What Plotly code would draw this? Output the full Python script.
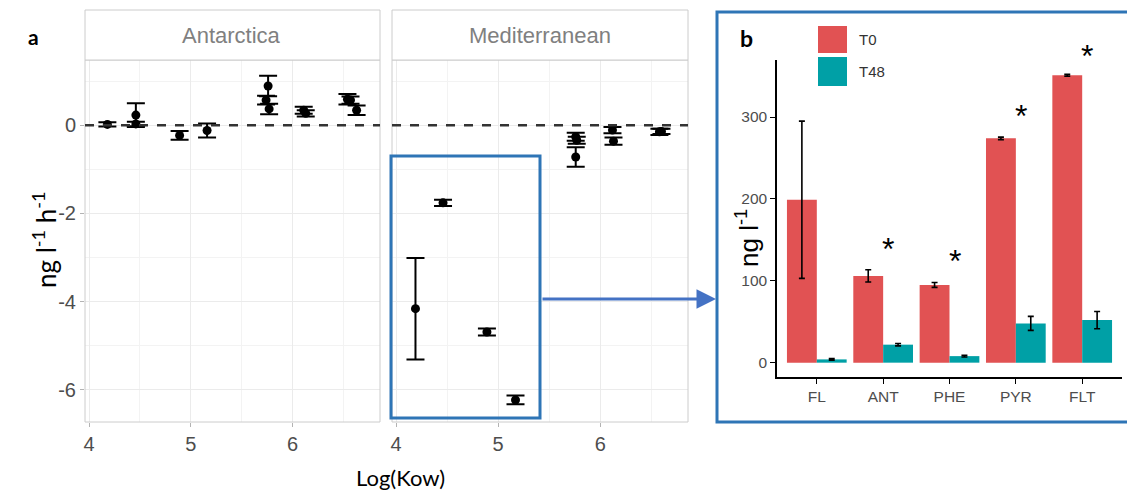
import plotly.graph_objects as go

# The page body adds an 8 px margin, so the figure is made 8 px smaller and
# all pixel positions (measured on the 1135x493 reference) are shifted by 8.
OFF = 8
W, H = 1135 - OFF, 493 - OFF

# ---------- Panel a data (Log(Kow) vs rate, ng l-1 h-1) ----------
ant_x   = [4.18, 4.46, 4.46, 4.89, 5.16, 5.76, 5.74, 5.77, 6.11, 6.13, 6.54, 6.57, 6.63]
ant_y   = [0.02, 0.23, 0.03, -0.23, -0.12, 0.89, 0.57, 0.37, 0.34, 0.27, 0.59, 0.57, 0.34]
ant_err = [0.05, 0.27, 0.05, 0.10, 0.16, 0.23, 0.10, 0.12, 0.08, 0.07, 0.12, 0.08, 0.11]

med_x   = [4.19, 4.46, 4.89, 5.17, 5.76, 5.77, 5.76, 6.12, 6.13, 6.58, 6.60]
med_y   = [-4.16, -1.76, -4.69, -6.23, -0.26, -0.34, -0.72, -0.11, -0.36, -0.15, -0.14]
med_err = [1.15, 0.07, 0.08, 0.10, 0.09, 0.08, 0.22, 0.07, 0.08, 0.07, 0.06]

x_ticks = [4, 5, 6]
y_ticks = [-6, -4, -2, 0]
y_ticktext = ["-6", "-4", "-2", "0"]

# ---------- Panel b data (ng l-1) ----------
compounds = ["FL", "ANT", "PHE", "PYR", "FLT"]
t0_vals  = [199, 106, 95, 274, 351]
t0_err   = [96, 7.5, 3, 1.5, 1.2]
t48_vals = [4, 22, 8, 48, 52]
t48_err  = [1, 1.5, 1, 8.5, 10.5]
signif   = ["", "*", "*", "*", "*"]
star_y   = [None, 144, 129, 306, 380]
b_ticks  = [0, 100, 200, 300]

RED, TEAL = "#E15253", "#00A0A6"
BLUE_BOX, BLUE_ARROW = "#2E75B6", "#4472C4"

def px(x):  # reference pixel -> paper x
    return (x - OFF) / W

def py(y):  # reference pixel -> paper y
    return 1 - (y - OFF) / H

fig = go.Figure()

for xs, ys, es, xa, ya in [(ant_x, ant_y, ant_err, "x", "y"), (med_x, med_y, med_err, "x2", "y2")]:
    fig.add_trace(go.Scatter(
        x=xs, y=ys, mode="markers", xaxis=xa, yaxis=ya, showlegend=False,
        marker=dict(color="black", size=9),
        error_y=dict(type="data", array=es, color="black", thickness=2, width=9),
    ))

fig.add_trace(go.Bar(
    x=compounds, y=t0_vals, name="T0", xaxis="x3", yaxis="y3", showlegend=False,
    marker=dict(color=RED, line=dict(width=0)),
    error_y=dict(type="data", array=t0_err, color="black", thickness=1.6, width=3),
))
fig.add_trace(go.Bar(
    x=compounds, y=t48_vals, name="T48", xaxis="x3", yaxis="y3", showlegend=False,
    marker=dict(color=TEAL, line=dict(width=0)),
    error_y=dict(type="data", array=t48_err, color="black", thickness=1.6, width=3),
))

tickfont_a = dict(family="Liberation Sans, Arial", size=20, color="#4D4D4D")
grid_a = dict(showgrid=True, gridcolor="#EBEBEB", gridwidth=1,
              minor=dict(showgrid=True, gridcolor="#F3F3F3", gridwidth=1, dtick=0.5),
              zeroline=False, showline=False, ticks="outside", ticklen=4,
              tickcolor="#B3B3B3", tickfont=tickfont_a)

ya_range = [-6.73, 1.48]
xa_range = [3.96, 6.86]
y_dom = [py(422), py(60)]
yb_range = [-17.5, 369.7]
yb_dom = [py(377), py(60)]
tickfont_b = dict(family="Liberation Sans, Arial", size=15.5, color="#4D4D4D")

fig.update_layout(
    width=W, height=H, margin=dict(l=0, r=0, t=0, b=0),
    paper_bgcolor="white", plot_bgcolor="white",
    barmode="group", bargap=0.1, bargroupgap=0,
    xaxis=dict(domain=[px(85), px(380)], range=xa_range, tickvals=x_ticks, **grid_a),
    yaxis=dict(domain=y_dom, range=ya_range, tickvals=y_ticks, ticktext=y_ticktext,
               minor=dict(showgrid=True, gridcolor="#F3F3F3", dtick=1),
               showgrid=True, gridcolor="#EBEBEB", zeroline=False, ticks="outside",
               ticklen=4, tickcolor="#B3B3B3", tickfont=tickfont_a),
    xaxis2=dict(domain=[px(392), px(688)], range=xa_range, tickvals=x_ticks, anchor="y2", **grid_a),
    yaxis2=dict(domain=y_dom, range=ya_range, tickvals=y_ticks, anchor="x2",
                showticklabels=False, ticks="",
                minor=dict(showgrid=True, gridcolor="#F3F3F3", dtick=1),
                showgrid=True, gridcolor="#EBEBEB", zeroline=False),
    xaxis3=dict(domain=[px(777), px(1122)], range=[-0.6, 4.6], anchor="y3",
                showline=True, linecolor="black", linewidth=1.5, ticks="outside",
                ticklen=5, tickcolor="black", showgrid=False, tickfont=tickfont_b),
    yaxis3=dict(domain=yb_dom, range=yb_range, anchor="x3",
                tickvals=b_ticks, showline=True, linecolor="black",
                linewidth=1.5, ticks="outside", ticklen=5, tickcolor="black",
                showgrid=False, zeroline=False, tickfont=tickfont_b),
)

shapes = []
# panel borders and strips (a)
for x0, x1 in [(85, 380), (392, 688)]:
    shapes.append(dict(type="rect", xref="paper", yref="paper", x0=px(x0), x1=px(x1),
                       y0=py(422), y1=py(60), line=dict(color="#CCCCCC", width=1)))
    shapes.append(dict(type="rect", xref="paper", yref="paper", x0=px(x0), x1=px(x1),
                       y0=py(60), y1=py(10), line=dict(color="#CCCCCC", width=1),
                       fillcolor="white"))
# dashed zero lines
for xr, yr in [("x", "y"), ("x2", "y2")]:
    shapes.append(dict(type="line", xref=f"{xr} domain", yref=yr, x0=0, x1=1, y0=0, y1=0,
                       line=dict(color="#333333", width=2.5, dash="dash"), layer="above"))
# blue highlight box
shapes.append(dict(type="rect", xref="paper", yref="paper", x0=px(391), x1=px(540),
                   y0=py(418), y1=py(156), line=dict(color=BLUE_BOX, width=3)))
# panel b border
shapes.append(dict(type="rect", xref="paper", yref="paper", x0=px(717), x1=px(1133),
                   y0=py(422), y1=py(12), line=dict(color=BLUE_BOX, width=3)))
# legend keys
for (y0, y1, c) in [(26, 53, RED), (57, 86, TEAL)]:
    shapes.append(dict(type="rect", xref="paper", yref="paper", x0=px(818), x1=px(847),
                       y0=py(y1), y1=py(y0), fillcolor=c, line=dict(width=0)))
fig.update_layout(shapes=shapes)

def label(text, x, y, size, family="Liberation Sans, Arial", color="black", angle=0,
          xanchor="center"):
    return dict(text=text, x=px(x), y=py(y), xref="paper", yref="paper", showarrow=False,
                xanchor=xanchor, yanchor="middle", textangle=angle,
                font=dict(family=family, size=size, color=color))

ann = [
    label("Antarctica", 232, 35, 22, color="#808080"),
    label("Mediterranean", 540, 35, 22, color="#808080"),
    label("<b>a</b>", 33, 36, 21, family="Lato, Liberation Sans"),
    label("<b>b</b>", 746, 38, 23, family="Lato, Liberation Sans"),
    label("ng l<sup>-1</sup> h<sup>-1</sup>", 44, 240, 26, family="Lato, Liberation Sans", angle=-90),
    label("Log(Kow)", 400, 477, 22, family="Lato, Liberation Sans"),
    label("ng l<sup>-1</sup>", 747, 238, 26, angle=-90),
    label("T0", 857, 40, 15, color="#333333", xanchor="left"),
    label("T48", 857, 72, 15, color="#333333", xanchor="left"),
]
# significance stars: data value mapped through the y3 axis scale into paper space
for i, (s, yv) in enumerate(zip(signif, star_y)):
    if s:
        yp = yb_dom[0] + (yv - yb_range[0]) / (yb_range[1] - yb_range[0]) * (yb_dom[1] - yb_dom[0])
        ann.append(dict(text=s, x=compounds[i], y=yp, xref="x3", yref="paper", xshift=5,
                        yshift=-4, showarrow=False, xanchor="center", yanchor="middle",
                        font=dict(family="Liberation Sans, Arial", size=32, color="black")))
# arrow
ann.append(dict(text="", x=px(716), y=py(299), xref="paper", yref="paper",
                ax=-175, ay=0, axref="pixel", ayref="pixel",
                showarrow=True, arrowhead=2, arrowsize=1.3, arrowwidth=3,
                arrowcolor=BLUE_ARROW))
fig.update_layout(annotations=ann)

fig.write_html("out.html")
